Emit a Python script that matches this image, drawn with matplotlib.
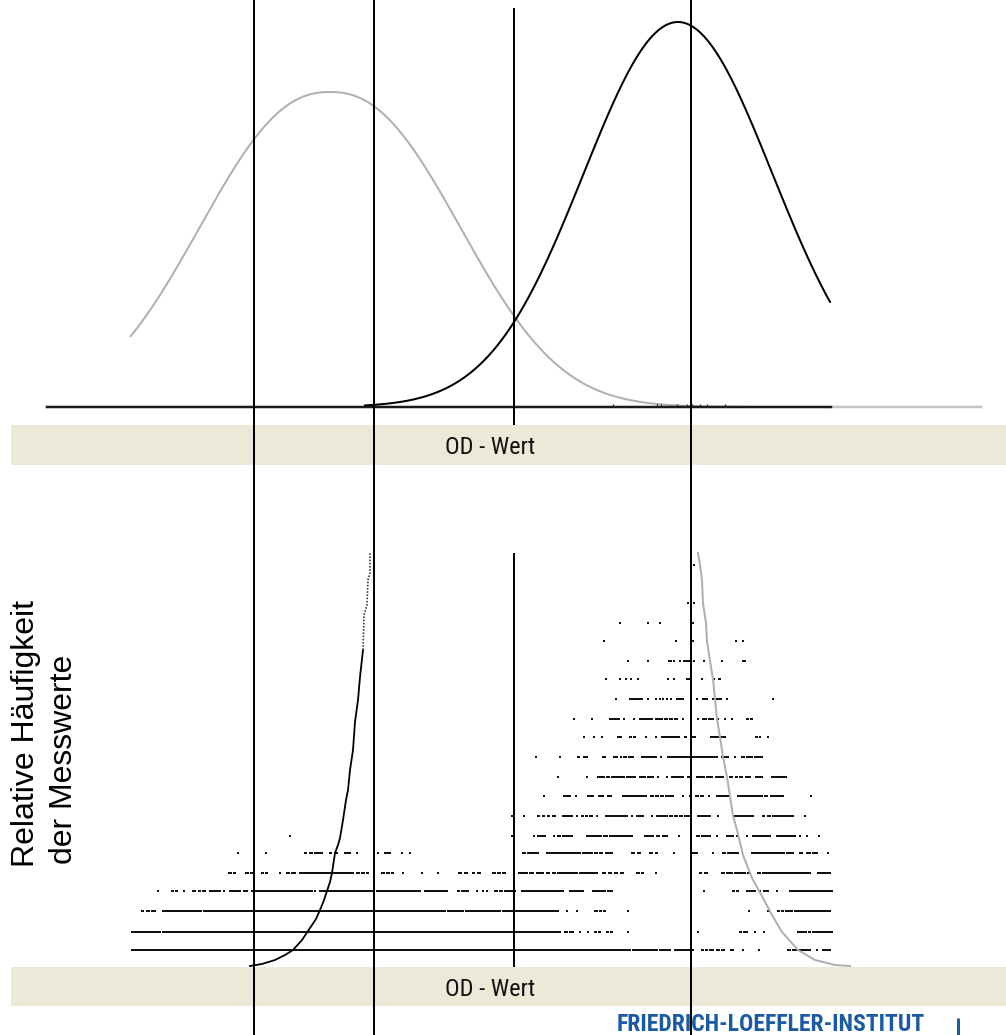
import numpy as np
import matplotlib
matplotlib.use("Agg")
import matplotlib.pyplot as plt
from matplotlib.collections import LineCollection
from matplotlib.patches import Rectangle
from matplotlib import font_manager

# ------------------------------------------------------------------
# DATA (chart units: x = OD scale of the drawing, y = drawing rows)
# ------------------------------------------------------------------
# top panel: density curves (negative population grey, positive black)
neg_mean, neg_scale, neg_shape, neg_peak = 330.0, 167.5, 2.3, 315.0
neg_range = (130, 981)
pos_mean, pos_scale, pos_shape, pos_peak = 678.0, 133.4, 2.0, 385.0
pos_range = (365, 830)
baseline_y = 407
baseline_black = (47, 831)
baseline_grey = (831, 981)
small_ticks_x = [613, 657, 661, 677, 687, 690, 692, 700, 707, 725]

# cut-off lines
cut_full_x = [254, 374, 691]
cut_mid_x = 514
cut_mid_spans = [(8, 425), (553, 967)]

# axis bands
band_spans = [(425, 465), (967, 1006)]
band_label = "OD - Wert"

# bottom panel: cumulative-type curves
neg_cum_x = [250, 262, 275, 285, 293, 302, 310, 316, 320, 324, 327, 330, 332, 335,
             338, 340, 343, 346, 348, 350, 353, 355, 358, 360, 363, 364, 367, 368, 370, 370]
neg_cum_y = [966, 964, 960, 955, 950, 940, 928, 919, 910, 900, 891, 882, 873, 853,
             845, 838, 820, 800, 790, 770, 750, 722, 700, 677, 650, 615, 605, 580, 573, 553]
pos_cum_x = [698, 700, 702, 703, 706, 707, 710, 713, 715, 717, 720, 723, 727, 730, 733,
             737, 743, 752, 763, 772, 782, 798, 815, 835, 850]
pos_cum_y = [553, 565, 580, 603, 623, 641, 661, 679, 699, 719, 737, 757, 777, 796, 816,
             830, 855, 878, 898, 915, 932, 950, 960, 965, 966]

# bottom panel: rows of measured values (runs of adjacent points, x_start..x_end)
row_levels = [565, 603, 623, 641, 661, 679, 699, 719, 737, 757, 777, 796, 816, 836,
              853, 873, 891, 911, 932, 950]
row_runs = [
    [(694, 694)],
    [(688, 688), (694, 694), (703, 703)],
    [(620, 620), (648, 648), (660, 660), (693, 693)],
    [(604, 604), (676, 676), (693, 693), (707, 707), (736, 736), (743, 743)],
    [(628, 628), (648, 648), (669, 671), (674, 674), (680, 680), (684, 689), (694, 694),
     (704, 704), (722, 722), (743, 745)],
    [(606, 606), (620, 620), (626, 626), (631, 631), (638, 638), (668, 668), (674, 674),
     (687, 689), (702, 702), (714, 714), (719, 720)],
    [(616, 616), (630, 642), (648, 648), (656, 656), (660, 660), (663, 663), (667, 667),
     (671, 671), (677, 683), (697, 697), (703, 707), (713, 721), (727, 727), (773, 773)],
    [(574, 574), (592, 592), (610, 619), (624, 624), (634, 634), (640, 652), (656, 662),
     (665, 667), (670, 672), (675, 677), (683, 683), (698, 698), (703, 706), (709, 713),
     (718, 718), (725, 725), (732, 732), (747, 748), (751, 752)],
    [(584, 584), (594, 594), (602, 602), (618, 621), (630, 631), (634, 635), (646, 646),
     (656, 656), (662, 677), (679, 679), (685, 686), (692, 695), (711, 725), (756, 757),
     (760, 760), (768, 768)],
    [(536, 536), (560, 560), (578, 579), (584, 587), (603, 605), (614, 617), (621, 621),
     (624, 626), (629, 633), (642, 656), (661, 661), (668, 693), (695, 717), (722, 728),
     (735, 735), (742, 744), (747, 752), (755, 762)],
    [(558, 558), (587, 587), (598, 604), (607, 609), (612, 613), (615, 624), (627, 635),
     (640, 645), (648, 653), (658, 658), (667, 667), (672, 683), (688, 691), (697, 704),
     (707, 712), (716, 723), (730, 732), (736, 737), (740, 742), (746, 750), (756, 762),
     (772, 786)],
    [(544, 544), (564, 570), (576, 576), (588, 593), (599, 603), (608, 611), (623, 646),
     (651, 653), (656, 658), (661, 663), (666, 673), (683, 683), (690, 690), (696, 698),
     (701, 703), (709, 709), (717, 728), (738, 758), (760, 762), (765, 767), (771, 783),
     (811, 811)],
    [(512, 512), (524, 524), (538, 539), (543, 544), (548, 549), (553, 555), (563, 572),
     (577, 577), (582, 583), (586, 587), (590, 592), (597, 597), (606, 617), (619, 627),
     (632, 632), (637, 643), (652, 652), (657, 667), (670, 672), (675, 677), (680, 682),
     (685, 690), (698, 710), (718, 718), (735, 753), (763, 764), (768, 770), (773, 793),
     (805, 805)],
    [(290, 290), (512, 512), (534, 534), (538, 545), (554, 554), (558, 560), (563, 572),
     (587, 598), (600, 601), (604, 607), (610, 632), (645, 653), (657, 659), (663, 667),
     (679, 679), (697, 699), (702, 710), (717, 717), (727, 733), (737, 737), (747, 747),
     (753, 770), (777, 795), (800, 800), (807, 807), (819, 819)],
    [(238, 238), (254, 254), (266, 266), (305, 306), (310, 312), (315, 316), (318, 322),
     (330, 331), (335, 337), (345, 350), (357, 357), (378, 378), (385, 390), (402, 402),
     (410, 410), (523, 525), (528, 538), (547, 560), (562, 580), (583, 592), (595, 597),
     (600, 602), (606, 612), (632, 634), (638, 640), (650, 652), (656, 657), (674, 674),
     (693, 697), (713, 713), (723, 725), (728, 738), (752, 780), (782, 784), (787, 793),
     (800, 802), (807, 810), (813, 817), (828, 828)],
    [(229, 231), (234, 235), (246, 248), (251, 252), (262, 263), (266, 267), (280, 280),
     (287, 289), (292, 295), (300, 333), (335, 353), (357, 359), (362, 364), (367, 368),
     (382, 384), (387, 389), (392, 393), (403, 403), (422, 422), (438, 438), (459, 461),
     (465, 467), (473, 474), (478, 480), (493, 495), (498, 500), (503, 505), (519, 527),
     (530, 533), (537, 543), (547, 549), (553, 555), (558, 577), (580, 597), (603, 605),
     (609, 611), (615, 617), (621, 623), (637, 639), (642, 643), (656, 656), (700, 701),
     (705, 707), (722, 724), (727, 732), (735, 745), (748, 750), (758, 760), (763, 810),
     (818, 830)],
    [(158, 158), (172, 173), (176, 177), (184, 184), (193, 195), (199, 200), (203, 205),
     (210, 220), (224, 224), (230, 240), (244, 247), (252, 312), (315, 315), (320, 373),
     (377, 420), (425, 447), (458, 459), (462, 468), (477, 477), (483, 483), (487, 487),
     (495, 497), (500, 502), (505, 515), (522, 563), (570, 583), (593, 605), (608, 612),
     (704, 704), (733, 734), (737, 738), (747, 755), (759, 760), (764, 768), (777, 777),
     (790, 832)],
    [(142, 143), (147, 149), (152, 155), (163, 197), (199, 201), (204, 205), (207, 445),
     (448, 460), (462, 463), (466, 500), (503, 558), (567, 567), (577, 577), (595, 597),
     (600, 601), (604, 605), (628, 628), (749, 749), (768, 768), (778, 779), (782, 783),
     (786, 792), (795, 830)],
    [(132, 160), (163, 540), (542, 560), (565, 567), (570, 573), (580, 580), (588, 588),
     (595, 596), (599, 600), (607, 608), (611, 612), (628, 628), (698, 698), (740, 741),
     (744, 747), (755, 755), (764, 764), (798, 806), (809, 810), (813, 832)],
    [(132, 630), (633, 657), (660, 670), (675, 690), (693, 693), (702, 703), (706, 707),
     (710, 713), (717, 719), (722, 724), (731, 733), (743, 743), (759, 759), (788, 790),
     (793, 810), (817, 817), (823, 830)],
]

ylabel_lines = ["Relative Häufigkeit", "der Messwerte"]
footer_text = "FRIEDRICH-LOEFFLER-INSTITUT"

# ------------------------------------------------------------------
# fonts
# ------------------------------------------------------------------
available = {f.name for f in font_manager.fontManager.ttflist}
def pick(cands, default="DejaVu Sans"):
    for c in cands:
        if c in available:
            return c
    return default

narrow = pick(["Liberation Sans Narrow", "Arial Narrow", "Roboto Condensed"], None)
sans = pick(["Liberation Sans", "Arial", "DejaVu Sans"])

# ------------------------------------------------------------------
# figure
# ------------------------------------------------------------------
fig = plt.figure(figsize=(10.06, 10.35), dpi=100)
ax = fig.add_axes([0, 0, 1, 1])
ax.set_xlim(0, 1006)
ax.set_ylim(1035, 0)
ax.axis("off")

BLACK = "#000000"
GREY = "#b0b0b0"
BEIGE = "#ECE9D8"
PX = 0.72  # points per pixel at 100 dpi

# bands
for y0, y1 in band_spans:
    ax.add_patch(Rectangle((11, y0), 1006 - 11, y1 - y0, facecolor=BEIGE,
                           edgecolor="none", zorder=0))
    ax.text(490, (y0 + y1) / 2 + 3, band_label, ha="center", va="center",
            fontsize=17.5 if narrow else 14.5, family=narrow or sans,
            color="#111111", zorder=5)

# top panel curves
def density(x, mean, scale, shape, peak):
    return peak * np.exp(-np.abs((x - mean) / scale) ** shape)

xn = np.linspace(*neg_range, 700)
yn = baseline_y - density(xn, neg_mean, neg_scale, neg_shape, neg_peak)
ax.plot(xn, yn, color=GREY, lw=2.0 * PX, zorder=2, solid_capstyle="butt")
ax.plot(baseline_grey, [baseline_y, baseline_y], color="#c4c4c4", lw=2.5 * PX, zorder=2)
ax.plot(baseline_black, [baseline_y, baseline_y], color="#1a1a1a", lw=2.5 * PX, zorder=3)
xp = np.linspace(*pos_range, 500)
yp = baseline_y - density(xp, pos_mean, pos_scale, pos_shape, pos_peak)
ax.plot(xp, yp, color=BLACK, lw=2.0 * PX, zorder=4)
ax.vlines(small_ticks_x, baseline_y - 3, baseline_y, color="#222222", lw=1.2 * PX, zorder=4)

# bottom panel: value rows
segs = []
for yv, runs in zip(row_levels, row_runs):
    for x0, x1 in runs:
        segs.append([(x0 - 1.0, yv), (x1 + 1.0, yv)])
ax.add_collection(LineCollection(segs, colors="#111111", linewidths=2.0 * PX,
                                 capstyle="butt", antialiaseds=False, zorder=3))

# bottom panel curves
ax.plot(pos_cum_x, pos_cum_y, color=GREY, lw=2.0 * PX, zorder=4)
nx = np.array(neg_cum_x); ny = np.array(neg_cum_y)
ax.plot(nx[ny >= 645], ny[ny >= 645], color=BLACK, lw=1.8 * PX, zorder=4)
ax.plot(nx[ny <= 650], ny[ny <= 650], color="#333333", lw=1.6 * PX,
        linestyle=(0, (1, 1)), zorder=4)

# cut-off lines
ax.vlines(cut_full_x, 0, 1035, color=BLACK, lw=2.0 * PX, zorder=6, antialiased=False)
for y0, y1 in cut_mid_spans:
    ax.vlines(cut_mid_x, y0, y1, color=BLACK, lw=2.0 * PX, zorder=6, antialiased=False)

# rotated y label
ax.text(11, 867, ylabel_lines[0], rotation=90, ha="left", va="bottom",
        fontsize=23, family=sans, color="#000000")
ax.text(49, 864, ylabel_lines[1], rotation=90, ha="left", va="bottom",
        fontsize=23, family=sans, color="#000000")

# footer
BLUE = "#1b5ba5"
ax.text(617, 1031, footer_text, ha="left", va="baseline",
        fontsize=17 if narrow else 13.5, family=narrow or sans,
        color=BLUE, weight="bold")
ax.vlines([958], 1018, 1035, color=BLUE, lw=3 * PX)

fig.savefig("out.png", dpi=100)
